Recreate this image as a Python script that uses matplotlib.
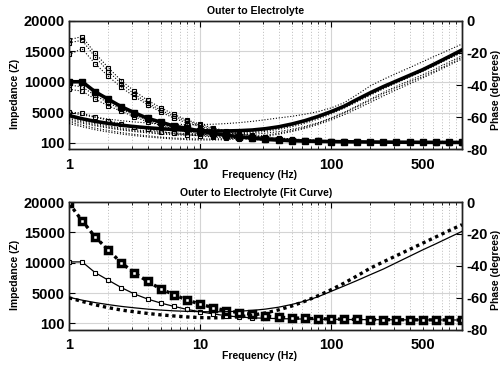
import matplotlib
matplotlib.use("Agg")
import matplotlib.pyplot as plt
from matplotlib.ticker import FixedLocator, FixedFormatter

plt.rcParams['font.family'] = ['Liberation Sans', 'DejaVu Sans']
plt.rcParams['font.weight'] = 'bold'

# ---------------- data ----------------
freq = [1, 1.26, 1.58, 2, 2.51, 3.16, 3.98, 5.01, 6.31, 7.94,
        10, 12.6, 15.8, 20, 25.1, 31.6, 39.8, 50.1, 63.1, 79.4,
        100, 126, 158, 200, 251, 316, 398, 501, 631, 794, 1000]

# top panel: individual measurements (impedance)
imp_m1 = [16900, 17400, 14700, 12300, 10200, 8500, 7000, 5800, 4700, 3800, 3100, 2500, 2000, 1600, 1300, 1050,
          850, 700, 580, 480, 400, 340, 290, 250, 220, 200, 180, 165, 150, 140, 130]
imp_m2 = [16400, 16800, 14100, 11700, 9700, 8000, 6600, 5400, 4400, 3600, 2900, 2300, 1850, 1500, 1200, 980,
          800, 660, 550, 460, 390, 330, 280, 240, 210, 190, 170, 155, 145, 135, 125]
imp_m3 = [14500, 15400, 13000, 10900, 9100, 7600, 6300, 5100, 4100, 3300, 2700, 2150, 1750, 1400, 1150, 930,
          760, 630, 520, 440, 370, 310, 270, 235, 205, 185, 165, 150, 140, 130, 120]
imp_m4 = [9500, 9200, 7800, 6600, 5500, 4600, 3800, 3100, 2500, 2100, 1700, 1400, 1150, 950, 780, 640,
          530, 440, 370, 310, 260, 220, 190, 170, 150, 140, 130, 120, 110, 105, 100]
imp_m5 = [8800, 8500, 7200, 6100, 5200, 4300, 3500, 2900, 2300, 1900, 1550, 1250, 1000, 830, 690, 570,
          470, 390, 330, 280, 240, 205, 180, 160, 145, 135, 125, 115, 108, 102, 100]
imp_m6 = [5100, 4900, 4300, 3700, 3100, 2700, 2300, 1900, 1600, 1400, 1200, 1000, 850, 720, 610, 520,
          440, 380, 320, 280, 240, 210, 185, 165, 150, 140, 130, 120, 112, 106, 100]

# top panel: individual measurements (phase)
ph_m1 = [-57.0, -58.6, -60.0, -61.2, -62.2, -63.0, -63.6, -64.1, -64.4, -64.6, -64.6, -64.4, -64.0, -63.4, -62.6,
         -61.6, -60.5, -59.5, -58.2, -56.6, -54.3, -51.0, -46.0, -40.5, -36.5, -32.8, -29.2, -25.5, -21.8, -18.2, -14.5]
ph_m2 = [-62.0, -63.8, -65.4, -66.8, -68.0, -69.0, -69.8, -70.5, -71.0, -71.3, -71.5, -71.6, -71.5, -71.2, -70.7,
         -70.0, -69.0, -67.6, -65.8, -63.5, -60.5, -57.0, -53.0, -48.7, -44.6, -40.8, -37.2, -33.6, -29.8, -25.8, -21.8]
ph_m3 = [-63.0, -65.0, -66.8, -68.3, -69.6, -70.7, -71.6, -72.4, -73.0, -73.4, -73.6, -73.6, -73.4, -73.0, -72.3,
         -71.3, -70.0, -68.4, -66.4, -63.9, -60.9, -57.4, -53.6, -49.5, -45.5, -41.8, -38.2, -34.7, -31.0, -27.0, -22.8]
ph_m4 = [-61.0, -63.0, -64.8, -66.3, -67.5, -68.5, -69.3, -70.0, -70.5, -70.8, -71.0, -71.0, -70.8, -70.4, -69.8,
         -68.9, -67.6, -66.0, -63.9, -61.2, -58.0, -54.4, -50.5, -46.3, -42.4, -38.7, -35.1, -31.5, -27.6, -23.6, -19.8]
ph_m5 = [-64.0, -66.0, -67.8, -69.3, -70.5, -71.5, -72.3, -73.0, -73.6, -74.0, -74.2, -74.2, -74.0, -73.6, -72.9,
         -71.9, -70.6, -69.0, -67.0, -64.6, -61.8, -58.5, -54.8, -50.8, -46.8, -43.0, -39.3, -35.6, -31.8, -27.8, -23.8]
ph_m6 = [-60.0, -62.2, -64.0, -65.5, -66.8, -67.8, -68.6, -69.3, -69.8, -70.2, -70.4, -70.4, -70.2, -69.8, -69.1,
         -68.1, -66.8, -65.1, -63.0, -60.4, -57.4, -53.9, -50.0, -45.8, -41.9, -38.3, -34.8, -31.3, -27.4, -23.4, -19.6]

# top panel: average
imp_avg = [10030, 10030, 8400, 7150, 5950, 4970, 4050, 3450, 2790, 2420, 1980, 1600, 1300, 1050, 820, 620,
           500, 400, 340, 300, 260, 230, 210, 190, 175, 160, 150, 140, 130, 125, 120]
ph_avg = [-59.0, -61.0, -62.6, -63.9, -65.0, -65.9, -66.6, -67.2, -67.7, -68.1, -68.4, -68.6, -68.6, -68.4, -68.0,
          -67.2, -66.0, -64.3, -62.2, -59.6, -56.6, -53.2, -49.0, -44.8, -41.0, -37.5, -34.0, -30.5, -26.5, -22.4, -18.2]

# bottom panel: fit curves
imp_fitA = [10150, 10150, 8400, 7130, 5925, 4870, 4045, 3385, 2840, 2345, 1950, 1600, 1300, 1080, 950, 880,
            820, 780, 750, 720, 700, 680, 665, 650, 640, 630, 620, 610, 605, 600, 595]
ph_fitA = [-59.7, -61.5, -63.0, -64.3, -65.4, -66.3, -67.1, -67.7, -68.2, -68.5, -68.7, -68.8, -68.7, -68.4, -67.9,
           -67.1, -65.9, -64.2, -62.1, -59.4, -56.0, -52.6, -49.2, -45.5, -42.0, -38.0, -34.0, -30.0, -26.2, -22.3, -18.4]
imp_fitB = [19785, 16915, 14275, 12080, 9985, 8335, 6965, 5700, 4770, 3880, 3220, 2620, 2130, 1800, 1500, 1250,
            1050, 950, 870, 810, 760, 720, 690, 670, 650, 640, 630, 620, 610, 600, 590]
ph_fitB = [-60.0, -62.3, -64.4, -66.2, -67.7, -68.8, -69.8, -70.7, -71.4, -72.0, -72.4, -72.6, -72.4, -71.9, -70.9,
           -69.5, -67.6, -65.2, -62.2, -58.8, -55.0, -50.8, -46.3, -41.4, -37.5, -33.6, -29.7, -25.8, -21.9, -18.0, -14.2]

imp_ticks = [100, 5000, 10000, 15000, 20000]
phase_ticks = [0, -20, -40, -60, -80]
x_major = [1, 10, 100, 1000]
x_major_labels = ['1', '10', '100', '']
x_minor = [2, 3, 4, 5, 6, 7, 8, 9, 20, 30, 40, 50, 60, 70, 80, 90,
           200, 300, 400, 500, 600, 700, 800, 900]
x_minor_labels = ['' if v != 500 else '500' for v in x_minor]

W, H = 500, 366
fig = plt.figure(figsize=(W / 100, H / 100), dpi=100)

TICK_FS = 10.5
LAB_FS = 7.5
TITLE_FS = 7.6
dot = (0, (1, 1.6))


def setup(ax, axr):
    ax.set_xscale('log')
    ax.set_xlim(1, 1000)
    ax.set_ylim(-1000, 20000)
    axr.set_ylim(-80, 0)
    ax.xaxis.set_major_locator(FixedLocator(x_major))
    ax.xaxis.set_major_formatter(FixedFormatter(x_major_labels))
    ax.xaxis.set_minor_locator(FixedLocator(x_minor))
    ax.xaxis.set_minor_formatter(FixedFormatter(x_minor_labels))
    ax.set_yticks(imp_ticks)
    ax.set_yticklabels([str(v) for v in imp_ticks])
    axr.set_yticks(phase_ticks)
    axr.set_yticklabels([str(v) for v in phase_ticks])
    ax.grid(True, which='major', axis='both', color='#d4d4d4', lw=0.8, ls='-')
    ax.grid(True, which='minor', axis='x', color='#bbbbbb', lw=0.7, ls=(0, (1, 2)))
    ax.set_axisbelow(True)
    ax.tick_params(axis='x', which='major', direction='in', top=True, length=4, width=0.8,
                   labelsize=TICK_FS, pad=6)
    ax.tick_params(axis='x', which='minor', direction='in', top=True, length=2, width=0.6,
                   labelsize=TICK_FS, pad=6)
    ax.tick_params(axis='y', direction='in', length=4, width=0.8, labelsize=TICK_FS, pad=3, right=False)
    axr.tick_params(axis='y', direction='in', length=4, width=0.8, labelsize=TICK_FS, pad=3)
    for a in (ax, axr):
        for s in a.spines.values():
            s.set_linewidth(1.0)
            s.set_color('#222222')
    for lab in ax.get_xticklabels(which='both') + ax.get_yticklabels() + axr.get_yticklabels():
        lab.set_fontweight('bold')


# ---------------- top panel ----------------
ax1 = fig.add_axes([69 / W, 1 - 149.3 / H, (462 - 69) / W, (149.3 - 20.7) / H])
ax1r = ax1.twinx()
setup(ax1, ax1r)

for imp in (imp_m1, imp_m2, imp_m3, imp_m4, imp_m5, imp_m6):
    ax1.plot(freq, imp, color='black', lw=0.8, ls=dot, marker='s', ms=3.2,
             mfc='none', mec='black', mew=0.8, zorder=3)
ax1.plot(freq, imp_avg, color='black', lw=2.6, ls='-', marker='s', ms=4.6,
         mfc='black', mec='black', mew=1.0, zorder=4)
for ph in (ph_m1, ph_m2, ph_m3, ph_m4, ph_m5, ph_m6):
    ax1r.plot(freq, ph, color='black', lw=0.8, ls=dot, zorder=3)
ax1r.plot(freq, ph_avg, color='black', lw=2.6, ls='-', zorder=4)

# ---------------- bottom panel ----------------
ax2 = fig.add_axes([69 / W, 1 - 329.7 / H, (462 - 69) / W, (329.7 - 202) / H])
ax2r = ax2.twinx()
setup(ax2, ax2r)

ax2.plot(freq, imp_fitA, color='black', lw=0.9, ls='-', marker='s', ms=3.4,
         mfc='white', mec='black', mew=0.8, zorder=3)
ax2.plot(freq, imp_fitB, color='black', lw=2.4, ls=(0, (1, 1.1)), marker='s', ms=4.3,
         mfc='white', mec='black', mew=2.5, zorder=4)
ax2r.plot(freq, ph_fitA, color='black', lw=0.9, ls='-', zorder=3)
ax2r.plot(freq, ph_fitB, color='black', lw=2.4, ls=(0, (1, 1.1)), zorder=4)

# ---------------- texts ----------------
def ftext(x, y, s, size, **kw):
    fig.text(x / W, 1 - y / H, s, fontsize=size, fontweight='bold', ha='center', va='center', **kw)

ftext(256, 11.5, 'Outer to Electrolyte', TITLE_FS)
ftext(259, 175, 'Frequency (Hz)', LAB_FS)
ftext(15, 94, 'Impedance (Z)', LAB_FS, rotation=90)
ftext(496, 90, 'Phase (degrees)', LAB_FS, rotation=90)

ftext(256, 193, 'Outer to Electrolyte (Fit Curve)', TITLE_FS)
ftext(259, 356, 'Frequency (Hz)', LAB_FS)
ftext(15, 275, 'Impedance (Z)', LAB_FS, rotation=90)
ftext(496, 270, 'Phase (degrees)', LAB_FS, rotation=90)

fig.savefig('out.png', dpi=100)
